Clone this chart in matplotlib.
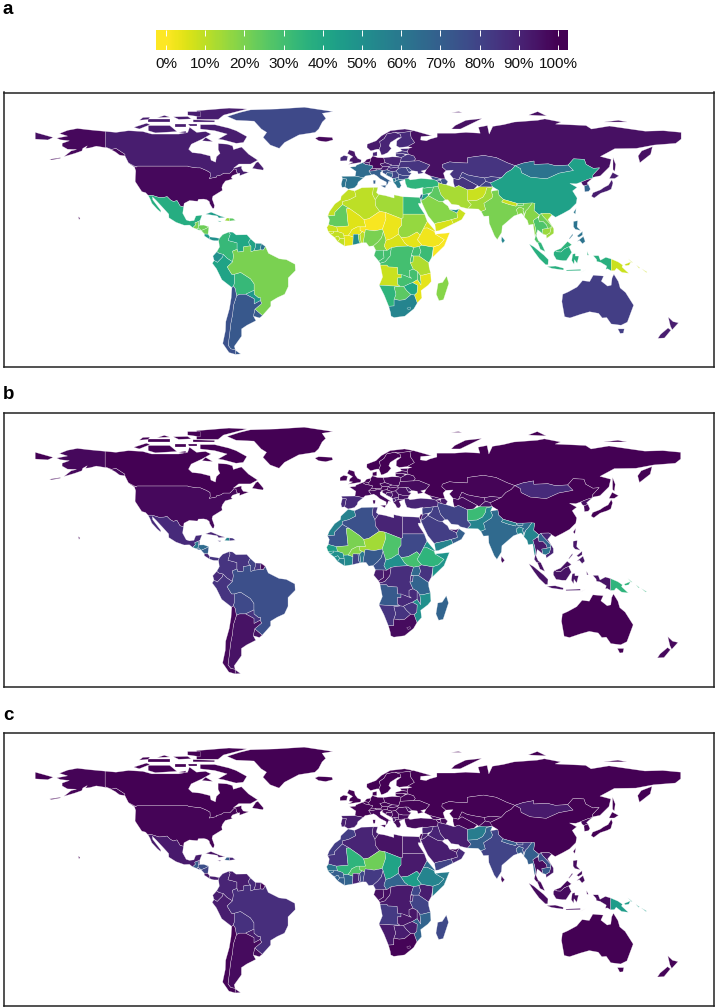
import numpy as np
import matplotlib
matplotlib.use('Agg')
import matplotlib.pyplot as plt

plt.rcParams['font.family'] = ['Liberation Sans', 'DejaVu Sans']

W, H = 717, 1008

# country outlines, lon/lat at about a degree of detail
shapes_na = {
    'USA': [
        [(-124.7,48.4),(-123,49),(-95,49),(-94.6,48.7),(-92,48.3),(-89.6,48),(-88,48),(-84.5,46.5),(-82.5,45.3),(-82.4,43),(-83,42),(-79,42.8),(-79,43.4),(-76.5,44),(-75,45),(-71.5,45),(-70.3,46.2),(-69.2,47.4),(-68,47.2),(-67.8,45.7),(-67,44.8),(-70,43.7),(-70.8,42.5),(-70,41.7),(-74,40.6),(-75.5,38.5),(-76,37),(-75.7,35.3),(-78,33.9),(-81,32),(-81.4,30.5),(-80.1,26.8),(-80.4,25.2),(-81.2,25.2),(-82.7,27.7),(-83,29),(-84.3,30),(-86,30.4),(-89,30.3),(-89.5,29.2),(-91,29.3),(-94,29.6),(-97,28),(-97.3,26),(-99.2,26.5),(-101,29.6),(-103,29),(-104.7,30),(-106.5,31.8),(-108.2,31.4),(-111,31.3),(-114.8,32.5),(-117.1,32.5),(-118.5,34),(-120.6,34.6),(-122.5,37.5),(-124.3,40.3),(-124.2,43),(-124,46.3)],
        [(-141,69.6),(-141,60.3),(-137.5,58.9),(-135,59.5),(-130,56),(-130,55),(-133,55.5),(-135.5,57.5),(-139.5,59.7),(-146,60.8),(-149.5,59.8),(-152,59.5),(-151,61),(-153.5,59.5),(-154,58),(-158,56.5),(-164,54.6),(-160,58),(-157,58.8),(-162,59),(-165,60.8),(-165,62.5),(-161,64),(-166,64.6),(-168,65.6),(-162,66.8),(-166.5,68.3),(-162,70.2),(-156.5,71.3),(-150,70.5)],
        [(-156,20.6),(-155,19.8),(-155.6,19)],
        [(-172,53),(-166,54),(-166,53.6),(-171,52.6)],
    ],
    'Canada': [
        [(-141,69.6),(-135,69),(-128,70),(-120,69.5),(-115,68),(-108,68),(-100,68),(-95,69),(-94,72),(-90,69),(-85,69.5),(-82,68),(-87,65),(-93,62),(-94.5,59),(-92.5,57),(-88,56.5),(-82.5,55),(-82,52.5),(-79.5,51.3),(-79,54.5),(-77,56.5),(-78,58.7),(-78,62.4),(-73,62),(-70,61),(-69.5,58.8),(-65,60.3),(-61,56),(-56,52.5),(-60,50.2),(-66.5,50.2),(-69.5,47.8),(-65,49),(-65,47.5),(-64,46),(-61,45.5),(-66,43.6),(-66,45),(-67,44.8),(-67.8,45.7),(-68,47.2),(-69.2,47.4),(-70.3,46.2),(-71.5,45),(-75,45),(-76.5,44),(-79,43.4),(-79,42.8),(-83,42),(-82.4,43),(-82.5,45.3),(-84.5,46.5),(-88,48),(-89.6,48),(-92,48.3),(-94.6,48.7),(-95,49),(-123,49),(-124.7,48.4),(-128,50.8),(-130,55),(-130,56),(-135,59.5),(-137.5,58.9),(-141,60.3)],
        [(-80,73.5),(-72,71.5),(-68,70),(-62,66.5),(-64,63),(-68,62.5),(-75,64.5),(-78,65),(-73,68),(-80,70),(-88,71),(-88,73.5)],
        [(-117,73),(-105,73),(-101,69.5),(-113,68.7),(-117,70)],
        [(-125,72),(-118,74.3),(-116,73.5),(-122,71)],
        [(-90,76.5),(-78,76.5),(-75,79),(-62,82.5),(-72,83),(-90,81.5)],
        [(-92,75),(-80,75),(-80,75.9),(-92,76.3)],
        [(-117,75),(-105,75),(-105,76.5),(-117,76.5)],
        [(-95,79),(-88,78),(-88,81),(-95,81)],
        [(-102,72),(-96,72),(-96,74),(-102,74)],
        [(-100,76.5),(-93,76.8),(-95,78.2),(-103,78)],
        [(-122,76),(-117,76.5),(-116,77.8),(-120,77.6)],
        [(-112,77.5),(-105,77.8),(-108,78.8)],
        [(-100,69),(-96,68.6),(-96,69.8)],
        [(-95,74),(-90,74),(-90,72.5),(-94,72.5)],
        [(-59,47.7),(-53,46.7),(-52.7,47.7),(-55.8,51.6),(-57,51)],
        [(-128,50.8),(-123.5,48.4),(-125,48.8)],
        [(-87,64),(-81,63.5),(-85,66)],
    ],
    'Greenland': [[(-73,78.2),(-68,76),(-58,75.5),(-54,71),(-51,69),(-53,66),(-49,61.5),(-44,59.5),(-41,63),(-33,67.5),(-24,69),(-22,71),(-20,75),(-18,77),(-20,80),(-14,81),(-30,83.5),(-45,82.5),(-60,82),(-66,80.5)]],
    'Iceland': [[(-24,65.5),(-22,64),(-18,63.4),(-14,64.5),(-14.5,66),(-18,66.2),(-22,66.4)]],
    'Mexico': [[(-117.1,32.5),(-114.8,32.5),(-111,31.3),(-108.2,31.4),(-106.5,31.8),(-104.7,30),(-103,29),(-101,29.6),(-99.2,26.5),(-97.3,26),(-97.8,22.5),(-95.8,18.8),(-94,18.2),(-91.5,18.5),(-90.5,21),(-87,21.5),(-88.2,18.4),(-89.2,17.9),(-91,17.2),(-90.7,16),(-92.2,14.6),(-94,16),(-97,15.9),(-101.5,17.5),(-105.5,20),(-105.6,22),(-109,25.7),(-112.5,29.5),(-114.7,31.7),(-114.5,30),(-110,24),(-110,23),(-112,24.7),(-115,28),(-116,30.5)]],
    'Guatemala': [[(-92.2,14.6),(-90.7,16),(-91,17.2),(-89.2,17.9),(-88.9,15.9),(-89.2,14.4),(-90,13.8)]],
    'Belize': [[(-89.2,17.9),(-88.2,18.4),(-88.3,16),(-88.9,15.9)]],
    'Honduras': [[(-89.2,14.4),(-88.9,15.9),(-86,16),(-83.2,15),(-85,14),(-87.5,13)]],
    'ElSalvador': [[(-90,13.8),(-89.2,14.4),(-87.7,13.2),(-88.8,13.2)]],
    'Nicaragua': [[(-87.5,13),(-85,14),(-83.2,15),(-83.7,11),(-85.7,11.1)]],
    'CostaRica': [[(-85.7,11.1),(-83.7,11),(-82.6,9.5),(-83,8.3),(-85.7,10)]],
    'Panama': [[(-83,8.3),(-82.6,9.5),(-80,9.2),(-77.4,8.7),(-77.8,7.4),(-80.3,7.4),(-81.5,7.7)]],
    'Cuba': [[(-85,22),(-82,23.1),(-77,21),(-74.2,20.2),(-77.7,19.9),(-78.5,21)]],
    'Haiti': [[(-74.4,18.4),(-71.7,18.2),(-71.7,19.8),(-73.2,19.9)]],
    'Dominican': [[(-71.7,18.2),(-68.4,18.6),(-69.9,19.7),(-71.7,19.8)]],
    'Jamaica': [[(-78.3,18.3),(-76.3,18.2),(-77,17.7)]],
}

shapes_sa = {
    'Colombia': [[(-77.4,8.7),(-75.5,10.8),(-72,12.2),(-71.3,11),(-72.5,7.5),(-70,6.9),(-67.5,6.2),(-67.5,2.7),(-70,1.7),(-69.5,-1),(-70,-4.2),(-73,-2.3),(-75.2,-0.1),(-77.5,0.4),(-78.8,1.4),(-77.3,4),(-77.8,7.4)]],
    'Venezuela': [[(-72,12.2),(-70,12.1),(-68,10.6),(-62,10.7),(-60,8.5),(-61,6.8),(-60.7,5.2),(-59.8,4.5),(-61,4.5),(-64,4),(-64,1.5),(-67,1.2),(-67.5,2.7),(-67.5,6.2),(-70,6.9),(-72.5,7.5),(-71.3,11)]],
    'Guyana': [[(-60,8.5),(-57.2,6),(-57.3,4),(-58,2),(-59.8,1.3),(-59.8,4.5),(-60.7,5.2),(-61,6.8)]],
    'Suriname': [[(-57.2,6),(-54,5.9),(-54.5,2.4),(-58,2),(-57.3,4)]],
    'FrGuiana': [[(-54,5.9),(-51.7,4.2),(-52.8,2.3),(-54.5,2.4)]],
    'Ecuador': [[(-78.8,1.4),(-77.5,0.4),(-75.2,-0.1),(-75.5,-1.5),(-78.5,-4.5),(-80.3,-3.4),(-81,-1)]],
    'Peru': [[(-80.3,-3.4),(-78.5,-4.5),(-75.5,-1.5),(-75.2,-0.1),(-73,-2.3),(-70,-4.2),(-73,-7),(-70.5,-11),(-69,-11),(-69,-16),(-69.5,-17.5),(-70.4,-18.3),(-76,-14),(-79,-8),(-81.3,-5)]],
    'Bolivia': [[(-69,-11),(-65.5,-10),(-60,-13.5),(-58,-16.3),(-58,-19.8),(-62.7,-22),(-66,-22),(-67.8,-22.8),(-68.5,-19),(-69.5,-17.5),(-69,-16)]],
    'Brazil': [[(-51.7,4.2),(-50,0.5),(-44,-2.5),(-40,-3),(-35.2,-5.5),(-35,-9),(-39,-13),(-39,-17.8),(-41,-22),(-45,-23.8),(-48.7,-26),(-48.7,-28.5),(-53.4,-33.7),(-57.6,-30.2),(-53.7,-27),(-54.6,-25.5),(-54.3,-24),(-55.5,-24),(-58,-22),(-58,-19.8),(-58,-16.3),(-60,-13.5),(-65.5,-10),(-69,-11),(-70.5,-11),(-73,-7),(-70,-4.2),(-69.5,-1),(-70,1.7),(-67.5,2.7),(-67,1.2),(-64,1.5),(-64,4),(-61,4.5),(-59.8,4.5),(-59.8,1.3),(-58,2),(-54.5,2.4),(-52.8,2.3)]],
    'Paraguay': [[(-62.7,-22),(-58,-19.8),(-58,-22),(-55.5,-24),(-54.3,-24),(-54.6,-25.5),(-58,-27.3),(-58,-24.5)]],
    'Uruguay': [[(-57.6,-30.2),(-53.4,-33.7),(-55,-35),(-58.4,-34)]],
    'Argentina': [
        [(-66,-22),(-62.7,-22),(-58,-24.5),(-58,-27.3),(-54.6,-25.5),(-53.7,-27),(-57.6,-30.2),(-58.4,-34),(-57,-36.5),(-62,-39),(-65,-41),(-65,-45),(-69,-50.5),(-68.5,-52.5),(-71,-52),(-72.5,-50),(-71.7,-44),(-71,-38),(-70,-33),(-69.5,-28),(-68.3,-24.5),(-67.8,-22.8)],
        [(-68.5,-52.7),(-65.5,-54.8),(-68.5,-55)],
    ],
    'Chile': [[(-70.4,-18.3),(-69.5,-17.5),(-68.5,-19),(-67.8,-22.8),(-68.3,-24.5),(-69.5,-28),(-70,-33),(-71,-38),(-71.7,-44),(-72.5,-50),(-71,-52),(-68.5,-52.5),(-68.5,-55),(-72,-54),(-75.5,-49),(-74,-42),(-73.8,-37),(-71.8,-30),(-70.8,-24)]],
}

shapes_eu = {
    'UK': [[(-5.5,50),(1.5,51.2),(1.7,52.7),(-0.2,53.5),(-1.6,55.5),(-2,57.6),(-5,58.6),(-6,56.5),(-3,54.5),(-4.5,53.3),(-5,51.7),(-3,51.4)]],
    'Ireland': [[(-10,52),(-6.3,52.2),(-6,54),(-5.6,54.7),(-8,55.3),(-10,54)]],
    'Norway': [[(4.9,60),(7,58),(10.5,59),(11.7,59),(12.5,61),(12,63.5),(14.5,65.3),(16,68),(20.5,69),(25,69),(29,69.5),(31,70),(26,71),(18,70),(13,67),(10,64),(5,62)]],
    'Sweden': [[(11.7,59),(13,55.5),(14.5,56),(16.5,57),(18.5,59.5),(17.2,61),(18,63),(22.2,65.8),(24,66),(23.5,67.9),(20.5,69),(16,68),(14.5,65.3),(12,63.5),(12.5,61)]],
    'Finland': [[(24,66),(21.5,64),(21.3,61),(23,60),(27.5,60.5),(31.5,62.9),(29.5,66),(29,69.5),(25,69),(20.5,69),(23.5,67.9)]],
    'Denmark': [[(8.1,55),(10.5,55),(10.5,57.5),(8.2,57)]],
    'Estonia': [[(23.5,59.2),(28,59.4),(27.5,57.6),(24.4,58)]],
    'Latvia': [[(21,57),(24.4,58),(27.5,57.6),(28,56),(25,56.3),(21,56.2)]],
    'Lithuania': [[(21,56.2),(25,56.3),(26.6,55.5),(24,54),(21,55)]],
    'Belarus': [[(23.5,51.6),(24,54),(26.6,55.5),(28,56),(31,55),(32,53.2),(31,52)]],
    'Poland': [[(14.2,53.9),(19,54.5),(23,54.3),(24,54),(23.5,51.6),(22.8,49.2),(19,49.5),(15,51),(14.6,52)]],
    'Germany': [[(7,53.5),(8.1,55),(11,54),(14.2,53.9),(14.6,52),(15,51),(12.2,50.2),(13.5,48.7),(13,47.5),(9.6,47.5),(7.6,47.6),(8.2,49),(6.2,49.5),(6,51),(7,52.3)]],
    'Netherlands': [[(3.5,51.4),(6,51),(7,52.3),(7,53.5),(4.8,53)]],
    'Belgium': [[(2.5,51),(3.5,51.4),(6,51),(6.2,49.5),(4,50)]],
    'France': [[(-4.7,48.4),(-1.5,48.7),(-1,49.5),(2.5,51),(4,50),(6.2,49.5),(8.2,49),(7.6,47.6),(6,46.2),(7.5,44),(4,43.4),(3,42.4),(-1.7,43.3),(-1.2,46)]],
    'Spain': [[(-9.2,43.2),(-1.7,43.3),(3,42.4),(0,40),(-0.5,38.4),(-2,36.8),(-5.5,36),(-7.4,37.2),(-7,39.5),(-6.5,41.7),(-8.7,41.9)]],
    'Portugal': [[(-8.7,41.9),(-6.5,41.7),(-7,39.5),(-7.4,37.2),(-9,37),(-9.5,38.8)]],
    'Italy': [
        [(7.5,44),(6,46.2),(8,46.3),(10.4,46.8),(12,47),(13.7,46.5),(12.3,45.3),(12.5,44),(16,41.8),(18.5,40.2),(17,40.5),(16.5,39),(15.7,38),(15.7,40),(12.2,41.8),(10.3,43.5),(8.7,44.4)],
        [(12.5,38),(15.6,38.2),(15,36.7)],
        [(8.3,41),(9.7,41),(9.5,39),(8.5,39)],
    ],
    'Switzerland': [[(6,46.2),(7.6,47.6),(9.6,47.5),(10.4,46.8),(8,46.3)]],
    'Austria': [[(9.6,47.5),(13,47.5),(13.5,48.7),(17,48.7),(16.3,46.9),(13.7,46.5),(12,47),(10.4,46.8)]],
    'Czechia': [[(12.2,50.2),(15,51),(19,49.5),(17,48.7),(13.5,48.7)]],
    'Slovakia': [[(17,48.7),(19,49.5),(22.8,49.2),(22,48.4),(18,47.8)]],
    'Hungary': [[(16.3,46.9),(17,48.7),(18,47.8),(22,48.4),(22.8,47.9),(21,46.2),(18.8,45.9),(16.6,46.5)]],
    'Croatia': [[(13.7,46.5),(16.3,46.9),(16.6,46.5),(18.8,45.9),(19,45),(16,45.2),(15.5,44),(18.5,42.5),(15,44.5),(13.6,45.3)]],
    'Bosnia': [[(16,45.2),(19,45),(19.3,43.6),(18.5,42.5),(15.5,44)]],
    'Serbia': [[(18.8,45.9),(21,46.2),(22.7,44.3),(22.5,42.5),(20.5,42.2),(19.3,42),(18.5,42.5),(19.3,43.6),(19,45)]],
    'Romania': [[(21,46.2),(22.8,47.9),(26.6,48.3),(28.2,45.5),(29.7,45),(28.6,43.7),(25,43.7),(22.7,44.3)]],
    'Moldova': [[(26.6,48.3),(28,48.2),(30,46.4),(28.2,45.5)]],
    'Bulgaria': [[(22.7,44.3),(25,43.7),(28.6,43.7),(27.8,42),(26,41.4),(22.8,41.3),(22.5,42.5)]],
    'Albania': [[(19.3,42),(20.5,42.2),(21,40.5),(19.7,39.8),(19.4,41)]],
    'Macedonia': [[(20.5,42.2),(22.5,42.5),(22.8,41.3),(21,40.9)]],
    'Greece': [[(19.7,39.8),(21,40.5),(21,40.9),(22.8,41.3),(26,41.4),(23,40.3),(24,38),(23,36.5),(21.7,36.8),(21,38.3)]],
    'Ukraine': [[(22.8,49.2),(23.5,51.6),(31,52),(34,52.2),(40,49.6),(38,47),(35,46.2),(36.5,45.2),(33.5,44.5),(33,46),(30,46.4),(28,48.2),(26.6,48.3),(22.8,47.9),(22,48.4)]],
}

shapes_as = {
    'Turkey': [[(26.2,40),(26,41.9),(28,41.9),(29,41.2),(35,42),(41.5,41.5),(43.5,41),(44.7,39.7),(44.5,37.5),(42,37.2),(36.5,36.5),(36,36.9),(32,36.1),(30,36.3),(27.3,37),(26.3,39.4)]],
    'Georgia': [[(40,43.5),(46.5,41.8),(43.5,41),(41.5,41.5)]],
    'Armenia': [[(43.5,41),(46,41),(46.5,39),(44.7,39.7)]],
    'Azerbaijan': [[(46.5,41.8),(48.5,41.8),(50,40.3),(49,38.5),(46.5,39),(46,41)]],
    'Russia': [
        [(28,59.5),(30,60),(27.5,60.5),(31.5,62.9),(29.5,66),(29,69.5),(31,70),(41,67),(35,66.5),(34.8,64.5),(38,64),(40,65),(44,66.2),(44,68.5),(54,68.5),(60,69),(68,68.5),(67,72),(72,73),(73,68),(75,72.5),(81,73.5),(87,75),(100,76),(104,76.8),(113,75),(110,73.8),(127,73),(130,71),(140,72.7),(160,69.7),(170,70),(180,69),(180,65),(177,62.5),(165,61.5),(155,59.5),(143,59.3),(135,54.7),(141,53),(140,48.5),(135,43.5),(131,42.7),(130.7,42.3),(130.8,44),(134.5,48),(131,47.7),(127,50),(126,53),(120,53.3),(117,49.6),(110,49.2),(106,50.3),(98,50),(98,52),(92,50.8),(87.5,49.2),(83,51),(77,54),(70,55.3),(61,54),(61,50.8),(55,51),(51,51.5),(47,50),(46.8,48.5),(49,46.5),(47.5,45),(48.5,41.8),(46.5,41.8),(40,43.5),(37,45),(38,47),(40,49.6),(34,52.2),(31,52),(32,53.2),(31,55),(28,56),(27.5,57.6)],
        [(158,58),(164,60.5),(163,56),(157,51),(156,55)],
        [(-180,69),(-170,66),(-173,64.5),(-180,65)],
        [(142,54),(143.5,50),(143,46),(142,47),(142,52)],
        [(52,71),(57,71),(69,77),(60,76),(54,73)],
        [(95,79),(105,78.5),(100,81)],
        [(137,75),(150,75),(145,76)],
        [(52,80.5),(58,80.5),(56,81)],
    ],
    'Kazakhstan': [[(47,50),(51,51.5),(55,51),(61,50.8),(61,54),(70,55.3),(77,54),(83,51),(87.5,49.2),(85.5,47),(82.5,45.3),(80,42.5),(74,43),(70.5,42.3),(66,43),(61,44),(58,45.5),(56,41.3),(53,42),(51,44.5),(53,46.7),(49,46.5),(46.8,48.5)]],
    'Uzbekistan': [[(56,41.3),(58,45.5),(61,44),(66,43),(70.5,42.3),(71,40.3),(67.5,37.3),(66.5,38),(62,40.5),(58,42.7)]],
    'Turkmenistan': [[(53,42),(56,41.3),(58,42.7),(62,40.5),(66.5,38),(64.5,36),(61,35.6),(56,38),(53.8,37),(53,40)]],
    'Kyrgyzstan': [[(70.5,42.3),(74,43),(80,42.5),(74,39.6),(71,40.3)]],
    'Tajikistan': [[(71,40.3),(74,39.6),(75,37.3),(71.5,36.7),(67.5,37.3)]],
    'Mongolia': [[(87.5,49.2),(92,50.8),(98,52),(98,50),(106,50.3),(110,49.2),(117,49.6),(120,46.5),(112,45),(105,41.8),(96,42.7),(91,45.2),(90.5,47.5)]],
    'China': [[(73.6,39.4),(74,39.6),(80,42.5),(82.5,45.3),(85.5,47),(87.5,49.2),(90.5,47.5),(91,45.2),(96,42.7),(105,41.8),(112,45),(120,46.5),(117,49.6),(120,53.3),(126,53),(127,50),(131,47.7),(134.5,48),(130.8,44),(130.7,42.3),(128,41.5),(124.3,40),(121.5,39),(118,39.2),(122,37),(119.5,35),(122,31),(121.5,28),(118,24.5),(114,22.3),(110,20.3),(108,21.6),(106.5,22.5),(102,22.4),(101,21.5),(98,24),(98.5,28),(92,28),(88.5,28),(81,30.2),(78.5,32.5),(78,35.5),(75,37.3)]],
    'NKorea': [[(124.3,40),(128,41.5),(130.7,42.3),(127.5,39.5),(128.3,38.6),(126,37.8),(125,38.5)]],
    'SKorea': [[(126,37.8),(128.3,38.6),(129.4,36),(128.5,34.8),(126.3,34.5)]],
    'Japan': [
        [(130.9,34),(135,35.6),(137,37),(139.5,38.3),(141.3,41.3),(142,39.5),(141,36),(139,35),(136,34),(135,33.6),(131.5,31),(130,32)],
        [(140,42),(141.8,45.4),(145.3,43.5),(143,42)],
    ],
    'Taiwan': [[(120,23),(121.5,25.2),(121,22)]],
    'Philippines': [
        [(120,18),(122.3,18.4),(122,15),(124,13),(121,13.7),(120,15)],
        [(122,7),(125.5,9.8),(126.5,7),(125,5.7),(123.5,7.5)],
        [(122,10),(125,12.5),(125,10.5),(123,9.3)],
        [(117.5,8.5),(119.5,11.2),(119.7,10.5),(117.8,8.3)],
    ],
    'Vietnam': [[(102,22.4),(106.5,22.5),(108,21.6),(105.8,19),(109,14),(109,11.5),(105,8.7),(104.8,10.5),(106.8,11.7),(107.5,14.5),(107.5,16),(105,18.7),(103,20.8)]],
    'Laos': [[(101,21.5),(102,22.4),(103,20.8),(105,18.7),(107.5,16),(107.5,14.5),(105.5,14.2),(105,16),(103,18),(101,17.7),(100.5,19.5)]],
    'Cambodia': [[(102.5,13.7),(105.5,14.2),(107.5,14.5),(106.8,11.7),(104.8,10.5),(103,11)]],
    'Thailand': [[(97.5,18.5),(100,20.3),(100.5,19.5),(101,17.7),(103,18),(105,16),(105.5,14.2),(102.5,13.7),(103,11),(101,12.7),(100,13.4),(99.3,10),(100.5,7.3),(102,6.2),(101,5.7),(99.5,6.5),(98.3,8),(99.2,11.5),(98.5,15.3)]],
    'Myanmar': [[(92.5,20.5),(93.5,24),(94.6,25),(97,28.3),(98.5,28),(98,24),(101,21.5),(100,20.3),(97.5,18.5),(98.5,15.3),(99.2,11.5),(98.5,10),(97.5,16.5),(95,16),(94.3,18.5)]],
    'Malaysia': [
        [(100,6.4),(102,6.2),(103.5,3),(104.2,1.4),(101.5,2.7)],
        [(109.7,1.9),(113,3.2),(116.7,7),(119,5.2),(117.5,4.1),(115,3),(113,1.2),(111,1.3)],
    ],
    'Indonesia': [
        [(109,1),(109.7,1.9),(111,1.3),(113,1.2),(115,3),(117.5,4.1),(119,1),(116,-3.5),(114,-3.5),(110.5,-3),(109,-0.5)],
        [(95.3,5.6),(98,4),(103.5,-0.5),(106,-3),(105.8,-5.8),(104.5,-5.8),(101,-2.5),(98,1.5)],
        [(105.3,-6.8),(110,-6.5),(114.5,-7.7),(114.4,-8.7),(108,-7.8)],
        [(119.5,0),(125,1.5),(121,0.4),(121,-1),(123,-1),(122,-5),(120.5,-3),(120.3,-5.5),(119,-3.5)],
        [(116,-8.7),(124,-8.3),(124,-9),(116,-9.2)],
        [(124,-10),(127,-8.4),(125,-9.5)],
        [(127.5,1.5),(128.5,-0.5),(127.7,-0.5)],
        [(131,-0.8),(134,-0.8),(135,-3.3),(138,-1.7),(141,-2.6),(141,-9.1),(139,-8),(138,-8.3),(138.5,-6.5),(135,-4.4),(133,-4),(132.8,-2.8)],
    ],
    'PNG': [
        [(141,-2.6),(145,-4.3),(147.5,-6),(147,-7),(150.8,-10.5),(147,-10),(144,-7.7),(143,-9),(141,-9.1)],
        [(148.5,-5.6),(152,-4.2),(151,-6),(149,-6.3)],
        [(150.5,-2.5),(153,-4.5),(152.5,-4.5)],
        [(155,-6),(157,-7.5),(156.5,-7.7)],
        [(158,-8),(161,-9.8),(160.5,-10)],
    ],
    'India': [[(74,34.8),(78,35.5),(78.5,32.5),(81,30.2),(80,28.8),(84,27.4),(88,26.4),(88.5,28),(89,26.8),(92,26.8),(92,28),(97,28.3),(94.6,25),(93.5,24),(92.5,22),(91.8,24.2),(92.3,25),(89.8,25.9),(88.2,24.5),(89,21.8),(86.8,21),(85,19.5),(80.3,15.5),(80,12),(77.5,8),(76,10),(73,17),(72.8,21),(70,20.8),(68.5,23.5),(71,24.5),(70,28),(74.5,31),(75,32.5)]],
    'Nepal': [[(80,28.8),(81,30.2),(88.5,28),(88,26.4),(84,27.4)]],
    'Bhutan': [[(89,26.8),(88.5,28),(92,28),(92,26.8)]],
    'Bangladesh': [[(88.2,24.5),(89.8,25.9),(92.3,25),(91.8,24.2),(92.5,20.8),(91,22.5),(89,21.8)]],
    'SriLanka': [[(80,9.7),(81.8,7.5),(80.5,6),(79.8,7.5)]],
    'Pakistan': [[(61,25),(67,24.8),(68.5,23.5),(71,24.5),(70,28),(74.5,31),(75,32.5),(74,34.8),(75,37.3),(71.5,36.7),(71,34),(69.5,31.5),(66.3,29.8),(61,29.5),(63,27.2)]],
    'Afghanistan': [[(61,29.5),(66.3,29.8),(69.5,31.5),(71,34),(71.5,36.7),(75,37.3),(67.5,37.3),(64.5,36),(61,35.6)]],
    'Iran': [[(44.7,39.7),(46.5,39),(49,38.5),(53.8,37),(56,38),(61,35.6),(61,29.5),(63,27.2),(61,25),(57,26),(56,27),(52,27.5),(50,30),(48.5,30),(46,33),(44.5,37.5)]],
    'Iraq': [[(42,37.2),(44.5,37.5),(46,33),(48.5,30),(47,29),(44.7,29.2),(39,32.3),(41,34.4)]],
    'Syria': [[(36,36.9),(36.5,36.5),(42,37.2),(41,34.4),(38.8,33.4),(36,33),(35.8,35.5)]],
    'Jordan': [[(36,33),(38.8,33.4),(39,32.3),(37,30.5),(35,29.5)]],
    'Israel': [[(34.3,31.3),(35,33),(36,33),(35,29.5)]],
    'Saudi': [[(35,29.5),(37,30.5),(39,32.3),(44.7,29.2),(47,29),(48,28),(50,26.5),(51,24.5),(55,22.7),(55.5,20),(52,19),(48,18),(43.3,17),(42.7,16.5),(39,21),(37,25)]],
    'Yemen': [[(42.7,16.5),(43.3,17),(48,18),(52,19),(53,16.7),(45,12.9),(43.3,12.7)]],
    'Oman': [[(52,19),(55.5,20),(55,22.7),(56.3,24.9),(59.8,22.5),(57.7,19),(53,16.7)]],
    'UAE': [[(51,24.5),(55,22.7),(56.3,24.9),(54.5,24.3)]],
}

shapes_af = {
    'Morocco': [[(-17,21),(-13,21.3),(-13,23),(-8.7,27.3),(-8.7,29),(-5,30),(-1.2,32),(-2,35),(-5.5,35.8),(-9.5,32),(-9.8,30),(-13,27.7),(-16,23.5)]],
    'Algeria': [[(-8.7,27.3),(-8.7,29),(-5,30),(-1.2,32),(-2,35),(2,36.8),(8.5,37),(8,33),(9.5,30),(9.8,26.5),(12,23.5),(6,19.5),(3.2,19),(1,21),(-4.8,25)]],
    'Tunisia': [[(8.5,37),(11,37),(10.2,34),(11.5,33),(9.5,30),(8,33)]],
    'Libya': [[(9.5,30),(11.5,33),(15,32.4),(20,31),(20,32.8),(25,31.7),(25,20),(24,19.5),(15,23),(12,23.5),(9.8,26.5)]],
    'Egypt': [[(25,31.7),(31,31.5),(34.3,31.3),(35,28),(33.5,28),(34,26.5),(37,22),(25,22)]],
    'Sudan': [[(24,19.5),(25,20),(25,22),(37,22),(38.5,18),(36.5,14.3),(34.5,10.5),(32.8,12.2),(28,9.5),(24,9),(22.5,11),(22.5,14),(24,15.7)]],
    'SSudan': [[(24,9),(28,9.5),(32.8,12.2),(34.5,10.5),(33,8),(35.5,5),(34,4.2),(31,3.7),(28,4.5),(26,6)]],
    'Mauritania': [[(-17,21),(-13,21.3),(-13,23),(-8.7,27.3),(-4.8,25),(-6.5,25),(-5.5,15.5),(-12,15),(-16.5,16.2),(-16,19)]],
    'Mali': [[(-4.8,25),(1,21),(3.2,19),(4.2,15),(1,15),(-0.5,15),(-3.5,13.5),(-4.3,12),(-5.5,10.4),(-8,10.3),(-8.5,11.5),(-11.5,12.4),(-12,15),(-5.5,15.5),(-6.5,25)]],
    'Niger': [[(3.2,19),(6,19.5),(12,23.5),(15,23),(15.5,19.5),(13.5,13.7),(9,12.8),(4,13.5),(3.7,11.7),(2.3,12.4),(1,13),(1,15),(4.2,15)]],
    'Chad': [[(15,23),(24,19.5),(24,15.7),(22.5,14),(22.5,11),(18.5,8.5),(15.5,7.6),(14,12.5),(13.5,13.7),(15.5,19.5)]],
    'Senegal': [[(-17.5,14.7),(-16.5,16.2),(-12,15),(-11.5,12.4),(-16.7,12.4)]],
    'GuineaBissau': [[(-16.7,12.4),(-13.7,12.6),(-13.7,11.7),(-15.5,11)]],
    'Guinea': [[(-15.5,11),(-13.7,11.7),(-13.7,12.6),(-11.5,12.4),(-8.5,11.5),(-8,10.3),(-7.7,8.5),(-10.2,8.5),(-11.2,10),(-13.2,9.2)]],
    'SierraLeone': [[(-13.2,9.2),(-11.2,10),(-10.2,8.5),(-11.4,6.9)]],
    'Liberia': [[(-11.4,6.9),(-10.2,8.5),(-7.7,8.5),(-7.5,4.4)]],
    'IvoryCoast': [[(-7.5,4.4),(-7.7,8.5),(-8,10.3),(-5.5,10.4),(-2.8,9.5),(-3,5.1)]],
    'Burkina': [[(-5.5,10.4),(-4.3,12),(-3.5,13.5),(-0.5,15),(1,15),(1,13),(2.3,12.4),(1,11),(0,11),(-2.8,11),(-2.8,9.5)]],
    'Ghana': [[(-3,5.1),(-2.8,9.5),(-2.8,11),(0,11),(0.5,7),(1.2,6.1)]],
    'Togo': [[(1.2,6.1),(0.5,7),(0,11),(1,11),(1.7,6.2)]],
    'Benin': [[(1.7,6.2),(1,11),(2.3,12.4),(3.7,11.7),(2.8,6.3)]],
    'Nigeria': [[(2.8,6.3),(3.7,11.7),(4,13.5),(9,12.8),(13.5,13.7),(14,12.5),(13,9),(11,6.7),(8.5,4.6),(6,4.3),(4.5,6.3)]],
    'Cameroon': [[(8.5,4.6),(11,6.7),(13,9),(14,12.5),(15.5,7.6),(14.5,4.5),(16,2),(9.8,2.2)]],
    'CAR': [[(14.5,4.5),(15.5,7.6),(18.5,8.5),(22.5,11),(24,9),(26,6),(28,4.5),(22,4.2),(18.5,3.6),(16,2)]],
    'Gabon': [[(9.8,2.2),(14,2.2),(14.4,-2),(11.5,-3.9),(8.8,-0.7)]],
    'Congo': [[(14,2.2),(16,2),(18.5,3.6),(17.8,-1),(15,-4.2),(12.2,-5),(11.5,-3.9),(14.4,-2)]],
    'DRC': [[(18.5,3.6),(22,4.2),(28,4.5),(31,3.7),(29.6,-0.5),(29,-4.5),(30.7,-8.2),(28.5,-9),(28.5,-12),(29.8,-13.3),(26,-11.8),(22,-11),(21.8,-7.2),(16.8,-7),(16,-6),(12.3,-6),(12.2,-5),(15,-4.2),(17.8,-1)]],
    'Uganda': [[(31,3.7),(34,4.2),(35,1.5),(33.9,-1),(30.8,-1),(29.6,-0.5)]],
    'Kenya': [[(34,4.2),(35.5,5),(41.9,3.9),(41,-1.7),(39.3,-4.7),(33.9,-1),(35,1.5)]],
    'Rwanda': [[(29.6,-1),(30.8,-1),(30.5,-4.3),(29,-4.5)]],
    'Tanzania': [[(30.8,-1),(33.9,-1),(39.3,-4.7),(39.5,-7),(40.4,-10.4),(36,-11.5),(34.5,-11.5),(33,-9.5),(30.7,-8.2),(29,-4.5),(30.5,-4.3)]],
    'Ethiopia': [[(36.5,14.3),(38.5,14.5),(42.5,12.5),(43,11),(48,8),(45,5),(42,4),(41.9,3.9),(35.5,5),(33,8),(34.5,10.5)]],
    'Eritrea': [[(36.5,14.3),(38.5,18),(43,12.7),(42.5,12.5),(38.5,14.5)]],
    'Somalia': [[(43,11),(51,11.8),(48,4.5),(41.5,-1.7),(41.9,3.9),(42,4),(45,5),(48,8)]],
    'Angola': [[(11.7,-17),(13.6,-12.5),(12.3,-6),(16,-6),(16.8,-7),(21.8,-7.2),(22,-11),(24,-11),(24,-13),(22,-13),(22,-16.5),(23.4,-17.6),(18,-17.4)]],
    'Zambia': [[(22,-13),(24,-13),(24,-11),(26,-11.8),(29.8,-13.3),(28.5,-12),(28.5,-9),(30.7,-8.2),(33,-9.5),(33,-14),(30.3,-15.6),(28,-16.5),(25.3,-17.8),(23.4,-17.6),(22,-16.5)]],
    'Malawi': [[(33,-9.5),(34.5,-11.5),(35,-15),(35,-17),(33,-14)]],
    'Mozambique': [[(40.4,-10.4),(36,-11.5),(34.5,-11.5),(35,-15),(35,-17),(33,-14),(30.3,-15.6),(33,-17),(32.8,-21),(31.3,-22.4),(32.9,-26.8),(35.5,-24),(35,-20),(39,-17),(40.7,-15)]],
    'Zimbabwe': [[(25.3,-17.8),(28,-16.5),(30.3,-15.6),(33,-17),(32.8,-21),(31.3,-22.4),(29.4,-22.2),(27,-20)]],
    'Botswana': [[(20,-18),(23.4,-17.6),(25.3,-17.8),(27,-20),(29.4,-22.2),(26,-25),(23,-25.3),(20,-24.8),(21,-22)]],
    'Namibia': [[(11.7,-17),(18,-17.4),(23.4,-17.6),(20,-18),(21,-22),(20,-24.8),(20,-28.4),(17,-28.6),(14.5,-22.5)]],
    'SouthAfrica': [[(17,-28.6),(20,-28.4),(20,-24.8),(23,-25.3),(26,-25),(29.4,-22.2),(31.3,-22.4),(32.9,-26.8),(31,-30),(26,-34),(20,-34.8),(18.3,-34),(18,-32)]],
    'Lesotho': [[(27.2,-29.6),(29,-29),(29.3,-30),(28,-30.6)]],
    'Madagascar': [[(49.3,-12),(50.5,-16),(47.5,-25),(45,-25.5),(43.5,-22),(44.5,-16),(47,-15.5)]],
}

shapes_oc = {
    'Australia': [
        [(114,-22),(113.5,-26),(115,-34.3),(118,-35),(124,-33),(129,-31.6),(134,-32.5),(136,-35),(138.5,-34.8),(141,-38.3),(146.5,-39),(150,-37.3),(153.5,-28),(149,-21),(146,-18.5),(145,-15),(142.5,-11),(141.5,-13),(141,-17),(139,-17.5),(135.5,-14.8),(136.8,-12),(131,-11.5),(129,-15),(125,-14.5),(122,-18),(117,-20.7)],
        [(144.7,-41),(148.3,-41),(147.8,-43.3),(146,-43.5)],
    ],
    'NewZealand': [
        [(172.8,-34.5),(175.5,-37),(178.5,-37.7),(175,-41.5),(174,-39.5)],
        [(172.7,-40.5),(174.3,-41.7),(170.7,-46),(167,-46.2),(168.5,-44)],
    ],
}

# percent per country, same order as the outlines above
na_a = [98,92,78,98,38,20,30,22,25,22,45,50,45,15,25,40]
na_b = [98,100,100,100,88,60,80,65,70,70,90,85,90,55,85,85]
na_c = [99,100,100,100,93,72,88,76,80,80,94,92,95,70,90,92]

sa_a = [33,40,42,50,62,50,42,33,20,47,72,73,75]
sa_b = [85,85,80,85,97,88,85,78,76,85,95,95,98]
sa_c = [90,92,88,90,98,92,92,86,87,92,97,97,99]

eu_a = [94,88,93,90,88,90,88,85,85,85,90,98,98,92,65,62,62,70,95,92,92,85,88,75,70,80,80,78,78,60,70,60,85]
eu_b = [99,99,100,100,100,100,98,98,98,98,98,99,99,99,98,88,88,97,100,99,98,97,98,97,94,96,96,92,95,90,92,95,97]
eu_c = [100,100,100,100,100,100,99,99,99,99,99,100,100,100,99,92,92,98,100,100,99,98,99,98,97,98,98,95,97,94,96,97,99]

as_a = [35,75,75,75,96,85,82,85,82,80,62,43,
        95,68,92,60,62,15,22,15,28,18,35,37,8,
        20,8,25,18,55,14,8,13,25,30,42,70,18,6,8,50]
as_b = [90,95,95,93,100,99,98,97,97,95,88,100,
        96,98,100,98,94,90,68,62,93,55,96,95,35,
        66,58,65,55,97,55,32,80,82,80,85,98,82,55,70,92]
as_c = [97,98,98,97,100,100,99,99,99,98,93,100,
        98,99,100,99,97,94,75,72,97,70,98,97,45,
        80,72,78,72,98,70,58,92,90,90,92,99,92,80,88,97]

af_a = [9,10,12,14,33,16,4,24,5,1,3,8,8,9,9,10,4,4,52,15,10,20,20,6,
        30,30,30,30,32,30,12,2,5,1,8,30,28,4,40,25,35,55,55,18]
af_b = [56,75,85,90,88,78,30,74,20,14,28,45,48,50,50,56,52,18,80,70,60,72,75,50,
        92,94,87,66,85,85,68,35,48,48,72,88,85,50,85,85,85,97,97,68]
af_c = [82,90,92,95,93,93,45,85,35,22,42,62,65,70,68,70,68,28,90,85,78,83,85,68,
        96,96,93,78,92,92,80,55,65,58,83,94,92,68,92,92,93,99,99,78]

oc_a = [82,92]
oc_b = [100,98]
oc_c = [100,99]

bar_ticks = [0,10,20,30,40,50,60,70,80,90,100]
bar_labels = ['0%','10%','20%','30%','40%','50%','60%','70%','80%','90%','100%']
panel_labels = ['a','b','c']

cmap = plt.get_cmap('viridis_r')


def px_axes(fig, x0, y0, x1, y1):
    # axes from pixel box, y counted from the top of the picture
    return fig.add_axes([x0 / W, 1 - y1 / H, (x1 - x0) / W, (y1 - y0) / H])


def project_lat(lat):
    # the source map squeezes the far north and stretches the far south a bit
    return np.interp(lat, [-60, -55, 25, 49, 71, 90], [-61, -56, 25, 48.7, 69.3, 87.7])


def draw_map(ax, values):
    regions = [shapes_na, shapes_sa, shapes_eu, shapes_as, shapes_af, shapes_oc]
    for shapes, vals in zip(regions, values, strict=True):
        for (name, parts), v in zip(shapes.items(), vals, strict=True):
            for part in parts:
                lon, lat = zip(*part)
                ax.fill(lon, project_lat(lat), facecolor=cmap(v / 100),
                        edgecolor=(1, 1, 1, 0.65), linewidth=0.3, joinstyle='round')
    ax.set_xlim(-197.7, 198.3)
    ax.set_ylim(-63.3, 89.6)
    ax.set_xticks([])
    ax.set_yticks([])
    for s in ax.spines.values():
        s.set_linewidth(1.1)
        s.set_color('#222222')


fig = plt.figure(figsize=(W / 100, H / 100), dpi=100)

# colour bar
cax = px_axes(fig, 156, 29.5, 568, 50.5)
grad = np.linspace(-2.55, 102.55, 300)
cax.imshow(grad[np.newaxis, :], aspect='auto', cmap=cmap, vmin=0, vmax=100,
           extent=[-2.55, 102.55, 0, 1])
cax.set_xticks(bar_ticks)
cax.set_xticklabels(bar_labels, fontsize=11, color='#111111')
cax.set_yticks([])
cax.tick_params(axis='x', top=True, bottom=True, direction='in', color='white',
                length=4, width=0.7, pad=5)
for s in cax.spines.values():
    s.set_visible(False)

boxes = [(3.5, 92.5, 714, 367.5), (3.5, 412.5, 713.5, 687), (3.5, 732.5, 713.5, 1006)]
panel_vals = [
    [na_a, sa_a, eu_a, as_a, af_a, oc_a],
    [na_b, sa_b, eu_b, as_b, af_b, oc_b],
    [na_c, sa_c, eu_c, as_c, af_c, oc_c],
]
for box, vals in zip(boxes, panel_vals):
    draw_map(px_axes(fig, *box), vals)

for lab, y in zip(panel_labels, [9, 395, 716]):
    fig.text(3 / W, 1 - y / H, lab, fontsize=13.5, fontweight='bold', va='center', ha='left')

fig.savefig('out.png', dpi=100)
